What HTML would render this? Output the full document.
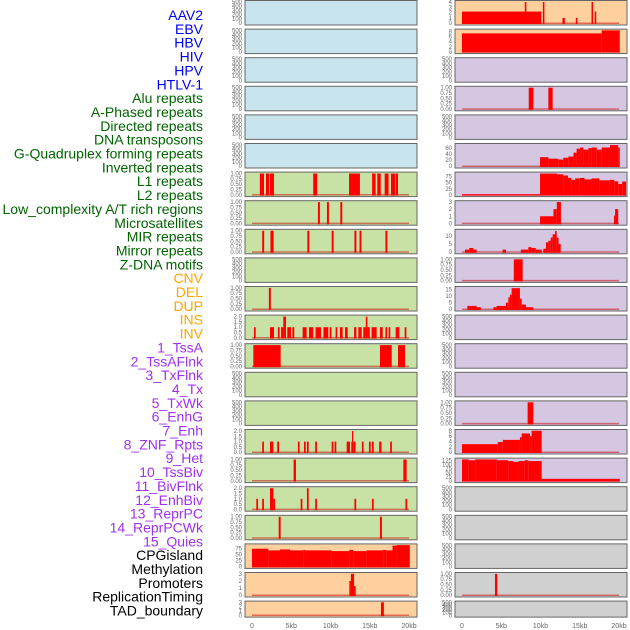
<!DOCTYPE html>
<html><head><meta charset="utf-8">
<style>
body{margin:0;background:#fff;width:630px;height:630px;overflow:hidden;font-family:"Liberation Sans",sans-serif}
svg{display:block}
</style></head>
<body>
<svg id="c" width="630" height="630" xmlns="http://www.w3.org/2000/svg"></svg>
<script>
const trackLabels = ["AAV2","EBV","HBV","HIV","HPV","HTLV-1","Alu repeats","A-Phased repeats","Directed repeats","DNA transposons","G-Quadruplex forming repeats","Inverted repeats","L1 repeats","L2 repeats","Low_complexity A/T rich regions","Microsatellites","MIR repeats","Mirror repeats","Z-DNA motifs","CNV","DEL","DUP","INS","INV","1_TssA","2_TssAFlnk","3_TxFlnk","4_Tx","5_TxWk","6_EnhG","7_Enh","8_ZNF_Rpts","9_Het","10_TssBiv","11_BivFlnk","12_EnhBiv","13_ReprPC","14_ReprPCWk","15_Quies","CPGisland","Methylation","Promoters","ReplicationTiming","TAD_boundary"];
const xTickKb = [0,5,10,15,20];
const xTickLabels = ["0","5kb","10kb","15kb","20kb"];
const ticksEmpty = [0,100,200,300,400,500];
const ticksBin = [0,0.25,0.5,0.75,1];
const ticks2 = [0,0.5,1,1.5,2];
// segments: [startKb, endKb, value]
const segR0 = [[0,10.1,2.2],[8.0,8.2,4],[10.3,10.5,4],[12.8,13.1,1],[14.5,14.7,1],[16.5,16.7,4],[16.9,17.1,2.2]];
const segR1 = [[0,17.8,7.3],[17.8,20.1,8.5]];
const segR3 = [[8.5,9.1,1],[11.0,11.55,1]];
const segR5 = [[9.94,11.0,30],[11.0,12.27,25],[12.27,12.9,22],[12.9,13.54,28],[13.54,14.2,32],[14.2,14.6,45],[14.6,15.04,58],[15.04,15.46,62],[15.46,16.1,55],[16.1,16.52,60],[16.52,17.16,62],[17.16,17.8,55],[17.8,18.85,62],[18.85,19.9,70],[19.9,20.1,62]];
const segL6 = [[1.0,1.53,1],[1.78,2.2,1],[2.29,2.8,1],[7.8,8.3,1],[12.36,13.75,1],[15.3,15.75,1],[15.96,16.4,1],[16.9,17.4,1],[17.7,18.26,1],[18.34,18.6,1]];
const segR6 = [[0,9.94,2],[9.94,12.1,88],[12.1,12.9,85],[12.9,13.5,80],[13.5,13.9,70],[13.9,14.4,62],[14.4,15.0,68],[15.0,15.6,70],[15.6,16.5,64],[16.5,17.5,68],[17.5,18.8,60],[18.8,19.4,62],[19.4,19.9,56],[19.9,20.4,45],[20.4,20.9,55]];
const segL7 = [[8.4,8.65,1],[9.55,9.8,1],[11.25,11.5,1]];
const segR7 = [[9.94,11.65,1],[11.65,12.08,2],[12.08,12.6,3],[19.36,19.5,1.1],[19.5,19.9,2]];
const segL8 = [[1.3,1.55,1],[2.35,2.75,1],[7.05,7.3,1],[10.15,10.4,1],[13.05,13.3,1],[13.7,13.95,1],[17.0,17.25,1]];
const segR8 = [[0.38,0.93,1.5],[0.93,1.44,2.5],[1.44,1.87,1.5],[5.17,5.6,1.5],[7.5,8.45,1.5],[8.45,8.87,3],[8.87,9.4,2.5],[9.4,10.15,1.5],[10.36,10.7,2],[10.7,11.0,6],[11.0,11.3,7],[11.3,11.55,9],[11.55,11.85,11],[11.85,12.06,13],[12.06,12.3,9],[12.3,12.57,5]];
const segR9 = [[6.6,7.73,1]];
const segL10 = [[2.15,2.4,1]];
const segR10 = [[0.68,1.87,2.5],[1.87,2.38,1.5],[3.99,4.41,1.5],[4.41,5.6,2.5],[5.6,5.9,5],[5.9,6.1,9],[6.1,6.32,11],[6.32,7.38,16],[7.38,7.6,8],[7.6,8.15,3.5],[8.15,9.08,1.5]];
const segL11 = [[0.25,0.47,1],[2.29,2.8,1],[3.3,3.52,1],[3.7,3.99,1],[3.99,4.33,2],[4.5,4.97,1],[5.14,5.39,1],[6.45,6.96,1],[7.26,7.8,1],[8.1,8.79,1],[9.1,9.72,1],[9.9,10.12,1],[10.65,10.87,1],[11.2,11.55,1],[11.85,12.19,1],[13.0,13.3,1],[13.55,13.97,1],[14.18,14.5,1],[14.5,14.7,2],[14.7,15.0,1],[15.24,15.88,1],[16.3,16.65,1],[17.0,17.22,1],[17.4,17.62,1],[18.3,18.77,1],[19.45,19.67,1]];
const segL12 = [[0.17,3.65,1],[16.3,17.8,1],[18.6,19.49,1]];
const segR14 = [[8.36,9.08,1]];
const segL15 = [[1.3,1.52,1],[2.29,2.72,1],[3.22,3.44,1],[5.85,6.07,1],[6.62,6.84,1],[7.0,7.22,1],[8.05,8.27,1],[10.15,10.37,1],[10.52,10.74,1],[12.06,12.48,1],[12.65,12.74,1],[12.74,12.9,2],[12.9,13.2,1],[14.0,14.22,1],[14.9,15.12,1],[15.28,15.5,1],[16.2,16.5,1],[17.6,17.82,1]];
const segR15 = [[0,4.57,3],[4.57,5.2,3.8],[5.2,7.38,4.6],[7.38,7.6,5.6],[7.6,8.65,7],[8.65,8.87,6],[8.87,10.15,8]];
const segL16 = [[5.3,5.6,1],[19.28,19.7,1]];
const segR16 = [[0,0.85,130],[0.85,1.7,125],[1.7,4.44,130],[4.44,5.9,125],[5.9,6.56,120],[6.56,7.2,115],[7.2,8.0,120],[8.0,8.45,125],[8.45,10.15,120],[10.15,20.1,12]];
const segL17 = [[0.55,0.77,1],[1.3,1.52,1],[2.29,2.72,2],[2.72,2.93,1],[6.2,6.42,1],[7.0,7.22,2],[8.05,8.27,1],[13.05,13.27,1],[15.28,15.5,1],[19.55,19.77,1]];
const segL18 = [[3.4,3.65,1],[16.3,16.55,1]];
const segL19 = [[0,2.08,75],[2.08,3.57,68],[3.57,4.84,72],[4.84,6.54,68],[6.54,6.75,70],[6.75,10.15,68],[10.15,12.4,65],[12.4,12.9,70],[12.9,14.6,65],[14.6,16.7,68],[16.7,17.1,70],[17.1,17.9,68],[17.9,18.4,88],[18.4,20.1,90]];
const segL20 = [[12.4,12.6,2],[12.6,13.0,3],[13.0,13.2,1.3]];
const segR20 = [[4.2,4.5,1]];
const segL21 = [[16.43,16.8,3]];

const C={b:"#c8e4ec",g:"#c8e1a5",o:"#fdd09e",p:"#d5c6e2",y:"#d0d0d0"};
// [row, side, bg, ticks, ymax, segs, tickDecimals]
const panels = [
[0,0,C.b,ticksEmpty,510,null,0],[0,1,C.o,[0,1,2,3,4],4.1,segR0,0],
[1,0,C.b,ticksEmpty,510,null,0],[1,1,C.o,[0,2,4,6,8],8.6,segR1,0],
[2,0,C.b,ticksEmpty,510,null,0],[2,1,C.p,ticksEmpty,510,null,0],
[3,0,C.b,ticksEmpty,510,null,0],[3,1,C.p,ticksBin,1.02,segR3,2],
[4,0,C.b,ticksEmpty,510,null,0],[4,1,C.p,ticksEmpty,510,null,0],
[5,0,C.b,ticksEmpty,510,null,0],[5,1,C.p,[0,20,40,60],72,segR5,0],
[6,0,C.g,ticksBin,1.02,segL6,2],[6,1,C.p,[0,25,50,75],90,segR6,0],
[7,0,C.g,ticksBin,1.02,segL7,2],[7,1,C.p,[0,1,2,3],3.05,segR7,0],
[8,0,C.g,ticksBin,1.02,segL8,2],[8,1,C.p,[0,5,10],13.5,segR8,0],
[9,0,C.g,ticksEmpty,510,null,0],[9,1,C.p,ticksBin,1.02,segR9,2],
[10,0,C.g,ticksBin,1.02,segL10,2],[10,1,C.p,[0,5,10,15],16.5,segR10,0],
[11,0,C.g,ticks2,2.05,segL11,1],[11,1,C.p,ticksEmpty,510,null,0],
[12,0,C.g,ticksBin,1.02,segL12,2],[12,1,C.p,ticksEmpty,510,null,0],
[13,0,C.g,ticksEmpty,510,null,0],[13,1,C.p,ticksEmpty,510,null,0],
[14,0,C.g,ticksEmpty,510,null,0],[14,1,C.p,ticksBin,1.02,segR14,2],
[15,0,C.g,ticks2,2.05,segL15,1],[15,1,C.p,[0,2,4,6,8],8.1,segR15,0],
[16,0,C.g,ticksBin,1.02,segL16,2],[16,1,C.p,[0,25,50,75,100,125],132,segR16,0],
[17,0,C.g,ticks2,2.05,segL17,1],[17,1,C.y,ticksEmpty,510,null,0],
[18,0,C.g,ticksBin,1.02,segL18,2],[18,1,C.y,ticksEmpty,510,null,0],
[19,0,C.o,[0,25,50,75],91,segL19,0],[19,1,C.y,ticksEmpty,510,null,0],
[20,0,C.o,[0,1,2,3],3.05,segL20,0],[20,1,C.y,ticksBin,1.02,segR20,2],
[21,0,C.o,[0,1,2,3],3.05,segL21,0],[21,1,C.y,ticksEmpty,510,null,0]
];
const NS="http://www.w3.org/2000/svg";
const svg=document.getElementById('c');
function mk(t,a,p){const e=document.createElementNS(NS,t);for(const k in a)e.setAttribute(k,a[k]);(p||svg).appendChild(e);return e;}
const panelX=[245,455], panelW=172;
function xScale(side,kb){return panelX[side]+7+kb*7.85;}
function rowTop(r){return 0.5+28.6*r;}
function rowH(r){return r===21?16:24.5;}
const labelColor=i=>i<6?"#0000ee":i<19?"#006400":i<24?"#ffa500":i<39?"#a030f0":"#000";
trackLabels.forEach((t,i)=>{
  const e=mk('text',{x:203,y:15+i*13.85+5,'text-anchor':'end','font-size':14,fill:labelColor(i)});
  e.textContent=t;
  
  
});
panels.forEach(p=>{
  const [r,s,bg,ticks,ymax,segs,dec]=p;
  const g=mk('g',{});
  
  
  const top=rowTop(r),h=rowH(r),x0=panelX[s];
  const y0=top+h-1.8, y1=top+1;
  const yS=v=>y0-(v/ymax)*(y0-y1);
  mk('rect',{x:x0,y:top,width:panelW,height:h,fill:bg,stroke:'#666','stroke-width':1},g);
  ticks.forEach(v=>{
    const t=mk('text',{x:x0-3,y:yS(v)+2,'text-anchor':'end','font-size':6,fill:'#666'},g);
    t.textContent=v.toFixed(dec);
    
    
  });
  if(segs){
    mk('line',{x1:xScale(s,0),x2:xScale(s,20),y1:y0,y2:y0,stroke:'rgba(200,0,0,0.5)','stroke-width':1.5},g);
    segs.forEach(d=>{
      const b=mk('rect',{x:xScale(s,d[0]),y:yS(d[2]),width:Math.max(1.2,xScale(s,d[1])-xScale(s,d[0])),height:y0-yS(d[2])+0.8,fill:'#ff0000'},g);
      
      
    });
  }
});
[0,1].forEach(s=>{
  xTickKb.forEach((kb,i)=>{
    const t=mk('text',{x:xScale(s,kb),y:628,'text-anchor':'middle','font-size':7,fill:'#666'});
    t.textContent=xTickLabels[i];
    
    
  });
});
</script>
</body></html>
